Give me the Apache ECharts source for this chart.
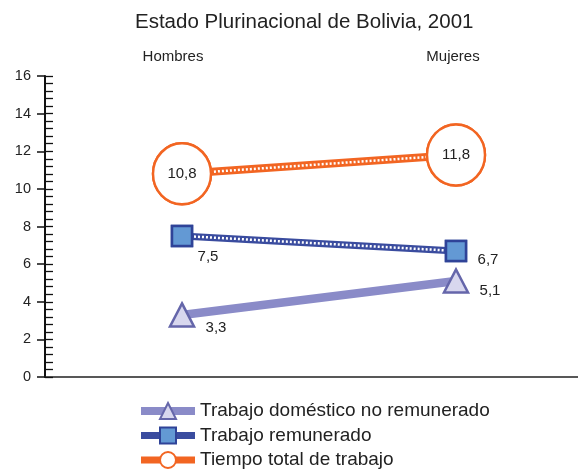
<!DOCTYPE html>
<html lang="es">
<head>
    <meta charset="UTF-8">
    <title>Estado Plurinacional de Bolivia, 2001</title>
    <script src="https://cdn.jsdelivr.net/npm/echarts@6/dist/echarts.min.js"></script>
</head>
<style>
    html,body{
        padding: 0;
        margin: 0;
        background: #fff;
    }
</style>
<body>
<div id="chart" style="width: 578px;height:471px;"></div>
</body>
<script type="text/javascript">
    // datos
    var categories = ['Hombres', 'Mujeres'];
    var domestico = [3.3, 5.1];
    var remunerado = [7.5, 6.7];
    var total = [10.8, 11.8];
    var seriesNames = ['Trabajo doméstico no remunerado', 'Trabajo remunerado', 'Tiempo total de trabajo'];
    var yMin = 0, yMax = 16, yStep = 2, yMinorStep = 0.4;

    var FONT = 'Liberation Sans, Arial, sans-serif';

    function coma(p) {
        return String(p.value).replace('.', ',');
    }

    // etiquetas con desplazamiento por punto
    function withOffsets(values, offsets) {
        return values.map(function (v, i) {
            return {value: v, label: {offset: offsets[i]}};
        });
    }

    var myChart = echarts.init(document.getElementById('chart'), null, {renderer: 'canvas'});

    var labelStyle = {show: true, position: 'inside', formatter: coma, fontFamily: FONT, fontSize: 15, color: '#222'};

    var option = {
        animation: false,
        title: {
            text: 'Estado Plurinacional de Bolivia, 2001',
            left: 130,
            top: 7,
            textStyle: {fontFamily: FONT, fontSize: 20.5, fontWeight: 'normal', color: '#222'}
        },
        legend: {
            orient: 'vertical',
            left: 137,
            top: 401,
            height: 90,
            padding: 0,
            itemWidth: 54,
            itemHeight: 20,
            itemGap: 4.5,
            data: [
                {name: seriesNames[0], lineStyle: {width: 8}},
                {name: seriesNames[1], lineStyle: {width: 7}},
                {name: seriesNames[2], lineStyle: {width: 7}}
            ],
            textStyle: {fontFamily: FONT, fontSize: 19, lineHeight: 20, color: '#222'}
        },
        grid: {left: 45, top: 76, width: 548, height: 301, outerBoundsMode: 'none'},
        xAxis: [
            {
                type: 'category',
                data: categories,
                position: 'bottom',
                boundaryGap: true,
                axisLine: {lineStyle: {color: '#222', width: 1.5}},
                axisTick: {show: false},
                axisLabel: {show: false}
            },
            {
                type: 'category',
                data: categories,
                position: 'top',
                boundaryGap: true,
                axisLine: {show: false},
                axisTick: {show: false},
                axisLabel: {
                    margin: 12,
                    formatter: function (v) {
                        return v === categories[0] ? '{h|' + v + '}' : '{m|' + v + '}';
                    },
                    rich: {
                        h: {fontFamily: FONT, fontSize: 15, color: '#222', padding: [0, 18, 0, 0]},
                        m: {fontFamily: FONT, fontSize: 15, color: '#222', padding: [0, 6, 0, 0]}
                    }
                }
            }
        ],
        yAxis: [
            {
                type: 'value',
                min: yMin, max: yMax, interval: yStep,
                position: 'left',
                axisLine: {show: true, lineStyle: {color: '#111', width: 2}},
                axisTick: {show: true, inside: false, length: 8, lineStyle: {color: '#111', width: 1.5}},
                axisLabel: {margin: 14, fontFamily: FONT, fontSize: 14.5, color: '#222'},
                splitLine: {show: false}
            },
            {
                // marcas menores hacia dentro
                type: 'value',
                min: yMin, max: yMax, interval: yMinorStep,
                position: 'left',
                axisLine: {show: false},
                axisTick: {show: true, inside: true, length: 8, lineStyle: {color: '#111', width: 1.3}},
                axisLabel: {show: false},
                splitLine: {show: false}
            }
        ],
        series: [
            {
                name: seriesNames[0],
                type: 'line',
                data: withOffsets(domestico, [[34, 13], [34, 10]]),
                z: 2,
                lineStyle: {color: '#8a8bc8', width: 8.5},
                symbol: 'triangle',
                symbolSize: [24, 23],
                itemStyle: {color: '#d8d7ee', borderColor: '#6566aa', borderWidth: 2.5},
                label: labelStyle
            },
            {
                name: seriesNames[1],
                type: 'line',
                data: remunerado,
                z: 2,
                lineStyle: {color: '#3a4c9f', width: 7},
                symbol: 'rect',
                symbolSize: 20,
                itemStyle: {color: '#6399d4', borderColor: '#2f4398', borderWidth: 2.5}
            },
            {
                name: 'rem-puntos',
                type: 'line',
                data: remunerado,
                z: 3,
                silent: true,
                symbol: 'none',
                lineStyle: {color: '#fff', width: 2.5, type: [2, 2]}
            },
            {
                name: 'rem-marcas',
                type: 'line',
                data: withOffsets(remunerado, [[26, 21], [32, 9]]),
                z: 4,
                lineStyle: {opacity: 0},
                symbol: 'rect',
                symbolSize: 20,
                itemStyle: {color: '#6399d4', borderColor: '#2f4398', borderWidth: 2.5},
                label: labelStyle
            },
            {
                name: seriesNames[2],
                type: 'line',
                data: total,
                z: 2,
                lineStyle: {color: '#f26522', width: 8},
                symbol: 'circle',
                symbolSize: [58, 61],
                itemStyle: {color: '#fff', borderColor: '#f26522', borderWidth: 2.5}
            },
            {
                name: 'tot-puntos',
                type: 'line',
                data: total,
                z: 3,
                silent: true,
                symbol: 'none',
                lineStyle: {color: '#fff', width: 2.5, type: [2, 2]}
            },
            {
                name: 'tot-marcas',
                type: 'line',
                data: total,
                z: 4,
                lineStyle: {opacity: 0},
                symbol: 'circle',
                symbolSize: [58, 61],
                itemStyle: {color: '#fff', borderColor: '#f26522', borderWidth: 2.5},
                label: labelStyle
            }
        ]
    };

    myChart.setOption(option);
</script>
</html>
